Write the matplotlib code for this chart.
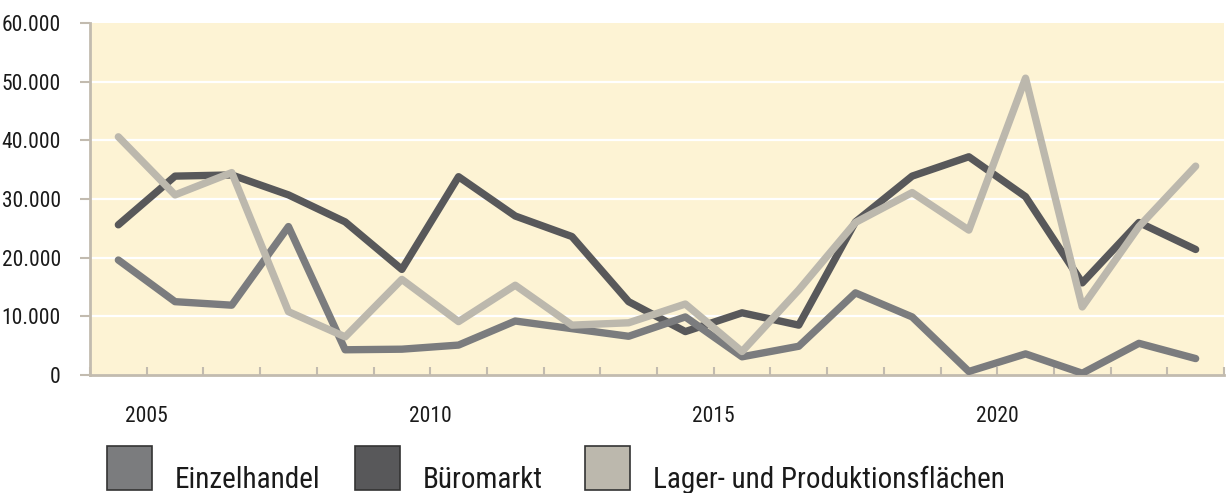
import matplotlib.pyplot as plt
from matplotlib.patches import Rectangle
from matplotlib.ticker import FuncFormatter

jahre = list(range(2004, 2024))
einzelhandel = [19600, 12500, 11900, 25300, 4300, 4400, 5100, 9200, 7900, 6600,
                9900, 3100, 4900, 14000, 9900, 600, 3600, 300, 5400, 2800]
bueromarkt = [25600, 33900, 34100, 30700, 26100, 18000, 33800, 27100, 23600, 12500,
              7400, 10600, 8500, 26100, 33900, 37200, 30400, 15700, 26000, 21400]
lager = [40600, 30700, 34500, 10800, 6500, 16300, 9100, 15300, 8500, 8900,
         12100, 4000, 14500, 26000, 31100, 24700, 50600, 11600, 25300, 35600]

namen = ["Einzelhandel", "Büromarkt", "Lager- und Produktionsflächen"]
farben = ["#7b7c7e", "#58585a", "#bcb8ad"]
achse_farbe = "#c2bbaf"

plt.rcParams['font.family'] = ['Roboto Condensed', 'PT Sans Narrow', 'Open Sans Condensed',
                               'DejaVu Sans']

fig = plt.figure(figsize=(12.27, 4.93), dpi=100)
ax = fig.add_axes([90 / 1227, 1 - 375 / 493, 1134 / 1227, 352 / 493])
ax.set_facecolor("#fdf3d4")

x = [j + 0.5 for j in jahre]
for werte, farbe, z in zip([einzelhandel, bueromarkt, lager], farben, [3, 2, 4]):
    ax.plot(x, werte, color=farbe, lw=5.3, solid_capstyle='round',
            solid_joinstyle='round', zorder=z)

ax.set_xlim(2004, 2024)
ax.set_ylim(0, 60000)
ax.set_yticks(range(0, 60001, 10000))
ax.yaxis.set_major_formatter(FuncFormatter(lambda v, p: f"{int(v):,}".replace(",", ".")))
ax.set_xticks(range(2004, 2025))
ax.set_xticklabels([str(j) if j % 5 == 0 else "" for j in range(2004, 2025)])

for y in range(10000, 60000, 10000):
    ax.axhline(y, color="white", lw=1.6, zorder=1)

for s in ["top", "right"]:
    ax.spines[s].set_visible(False)
for s in ["left", "bottom"]:
    ax.spines[s].set_color(achse_farbe)
    ax.spines[s].set_linewidth(2)

ax.tick_params(axis='x', direction='in', length=6, width=1.5, color=achse_farbe,
               pad=22, labelsize=15.5, labelcolor="#1a1a1a")
ax.tick_params(axis='y', direction='out', length=7, width=1.5, color=achse_farbe,
               pad=14, labelsize=15.5, labelcolor="#1a1a1a")

# Legende
legende_x = [107, 355, 585]
for lx, farbe, name in zip(legende_x, farben, namen):
    fig.add_artist(Rectangle((lx / 1227, 1 - 490 / 493), 45 / 1227, 44 / 493,
                             facecolor=farbe, edgecolor="#333333", lw=1.2,
                             transform=fig.transFigure))
    fig.text((lx + 68) / 1227, 1 - 488 / 493, name, fontsize=21,
             color="#1a1a1a", va="baseline", ha="left")

fig.savefig("out.png", dpi=100)
